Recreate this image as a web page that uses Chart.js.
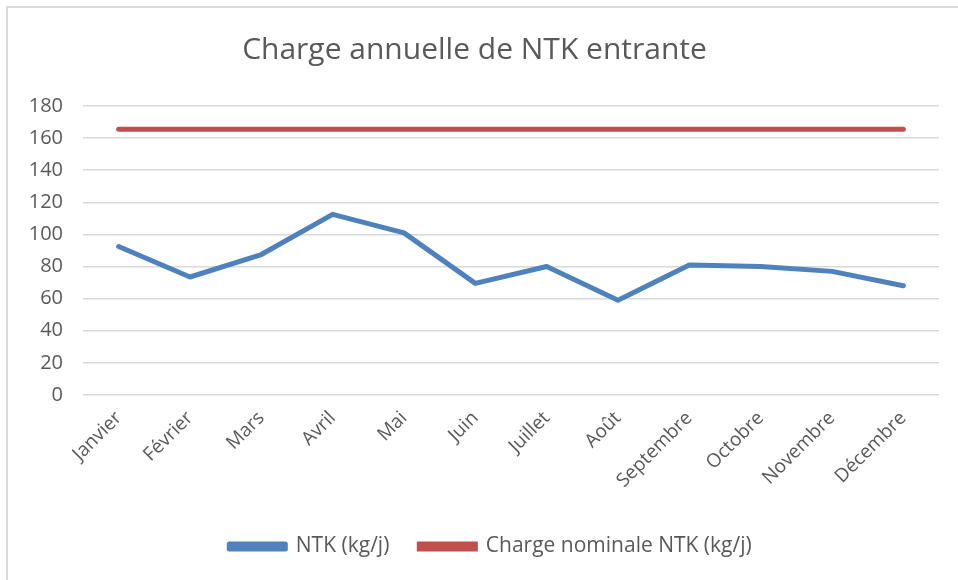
<!DOCTYPE html>
<html>
<head>
<meta charset="utf-8">
<script src="https://cdn.jsdelivr.net/npm/chart.js@4"></script>
<style>
  html, body { margin: 0; padding: 0; background: #fff; overflow: hidden; }
  #wrap { position: relative; width: 958px; height: 580px; }
  #frame { position: absolute; left: 6px; top: 6px; width: 960px; height: 600px; border-left: 2px solid #d9d9d9; border-top: 2px solid #d9d9d9; pointer-events: none; }
</style>
</head>
<body>
<div id="wrap">
  <canvas id="chart" width="958" height="580"></canvas>
  <div id="frame"></div>
</div>
<script>
const months = ["Janvier", "Février", "Mars", "Avril", "Mai", "Juin", "Juillet", "Août", "Septembre", "Octobre", "Novembre", "Décembre"];
const ntk = [92.5, 73.5, 87.5, 112.5, 101, 69.5, 80, 59, 81, 80, 77, 68];
const nominal = [165.5, 165.5, 165.5, 165.5, 165.5, 165.5, 165.5, 165.5, 165.5, 165.5, 165.5, 165.5];
const yTicks = [0, 20, 40, 60, 80, 100, 120, 140, 160, 180];

const textColor = "#595959";
const fontFamily = "'Open Sans', sans-serif";

const chartDiv = document.getElementById("chart");

// the legend sits a bit right of centre in the original
const legendShift = {
  id: "legendShift",
  afterLayout: (chart) => {
    chart.legend.left += 16;
    chart.legend.right += 16;
  },
};

new Chart(chartDiv, {
  type: "line",
  data: {
    labels: months,
    datasets: [
      {
        label: "NTK (kg/j)",
        data: ntk,
        borderColor: "#4f81bd",
        backgroundColor: "#4f81bd",
        borderWidth: 5,
        borderCapStyle: "round",
        borderJoinStyle: "round",
        pointRadius: 0,
        tension: 0,
      },
      {
        label: "Charge nominale NTK (kg/j)",
        data: nominal,
        borderColor: "#c0504d",
        backgroundColor: "#c0504d",
        borderWidth: 5,
        borderCapStyle: "round",
        pointRadius: 0,
        tension: 0,
      },
    ],
  },
  options: {
    responsive: false,
    animation: false,
    layout: {
      padding: { left: 10, right: 19, top: 5, bottom: 13 },
    },
    scales: {
      x: {
        offset: true,
        grid: { display: false },
        border: { display: false },
        ticks: {
          color: textColor,
          font: { family: fontFamily, size: 19 },
          minRotation: 45,
          maxRotation: 45,
          padding: 4,
        },
        afterFit: (scale) => {
          scale.height = 111;
        },
      },
      y: {
        min: 0,
        max: 180,
        afterBuildTicks: (scale) => {
          scale.ticks = yTicks.map((v) => ({ value: v }));
        },
        grid: { color: "#d9d9d9", lineWidth: 1.5, drawTicks: false },
        border: { display: false },
        ticks: {
          color: textColor,
          font: { family: fontFamily, size: 20 },
          padding: 20,
        },
        afterFit: (scale) => {
          scale.width = 73;
        },
      },
    },
    plugins: {
      title: {
        display: true,
        text: "Charge annuelle de NTK entrante",
        color: textColor,
        font: { family: fontFamily, size: 30, weight: "normal" },
        padding: { top: 27, bottom: 38 },
      },
      legend: {
        position: "bottom",
        labels: {
          color: textColor,
          font: { family: fontFamily, size: 21 },
          boxWidth: 56,
          boxHeight: 5,
          padding: 30,
        },
      },
      tooltip: { enabled: false },
    },
  },
  plugins: [legendShift],
});
</script>
</body>
</html>
